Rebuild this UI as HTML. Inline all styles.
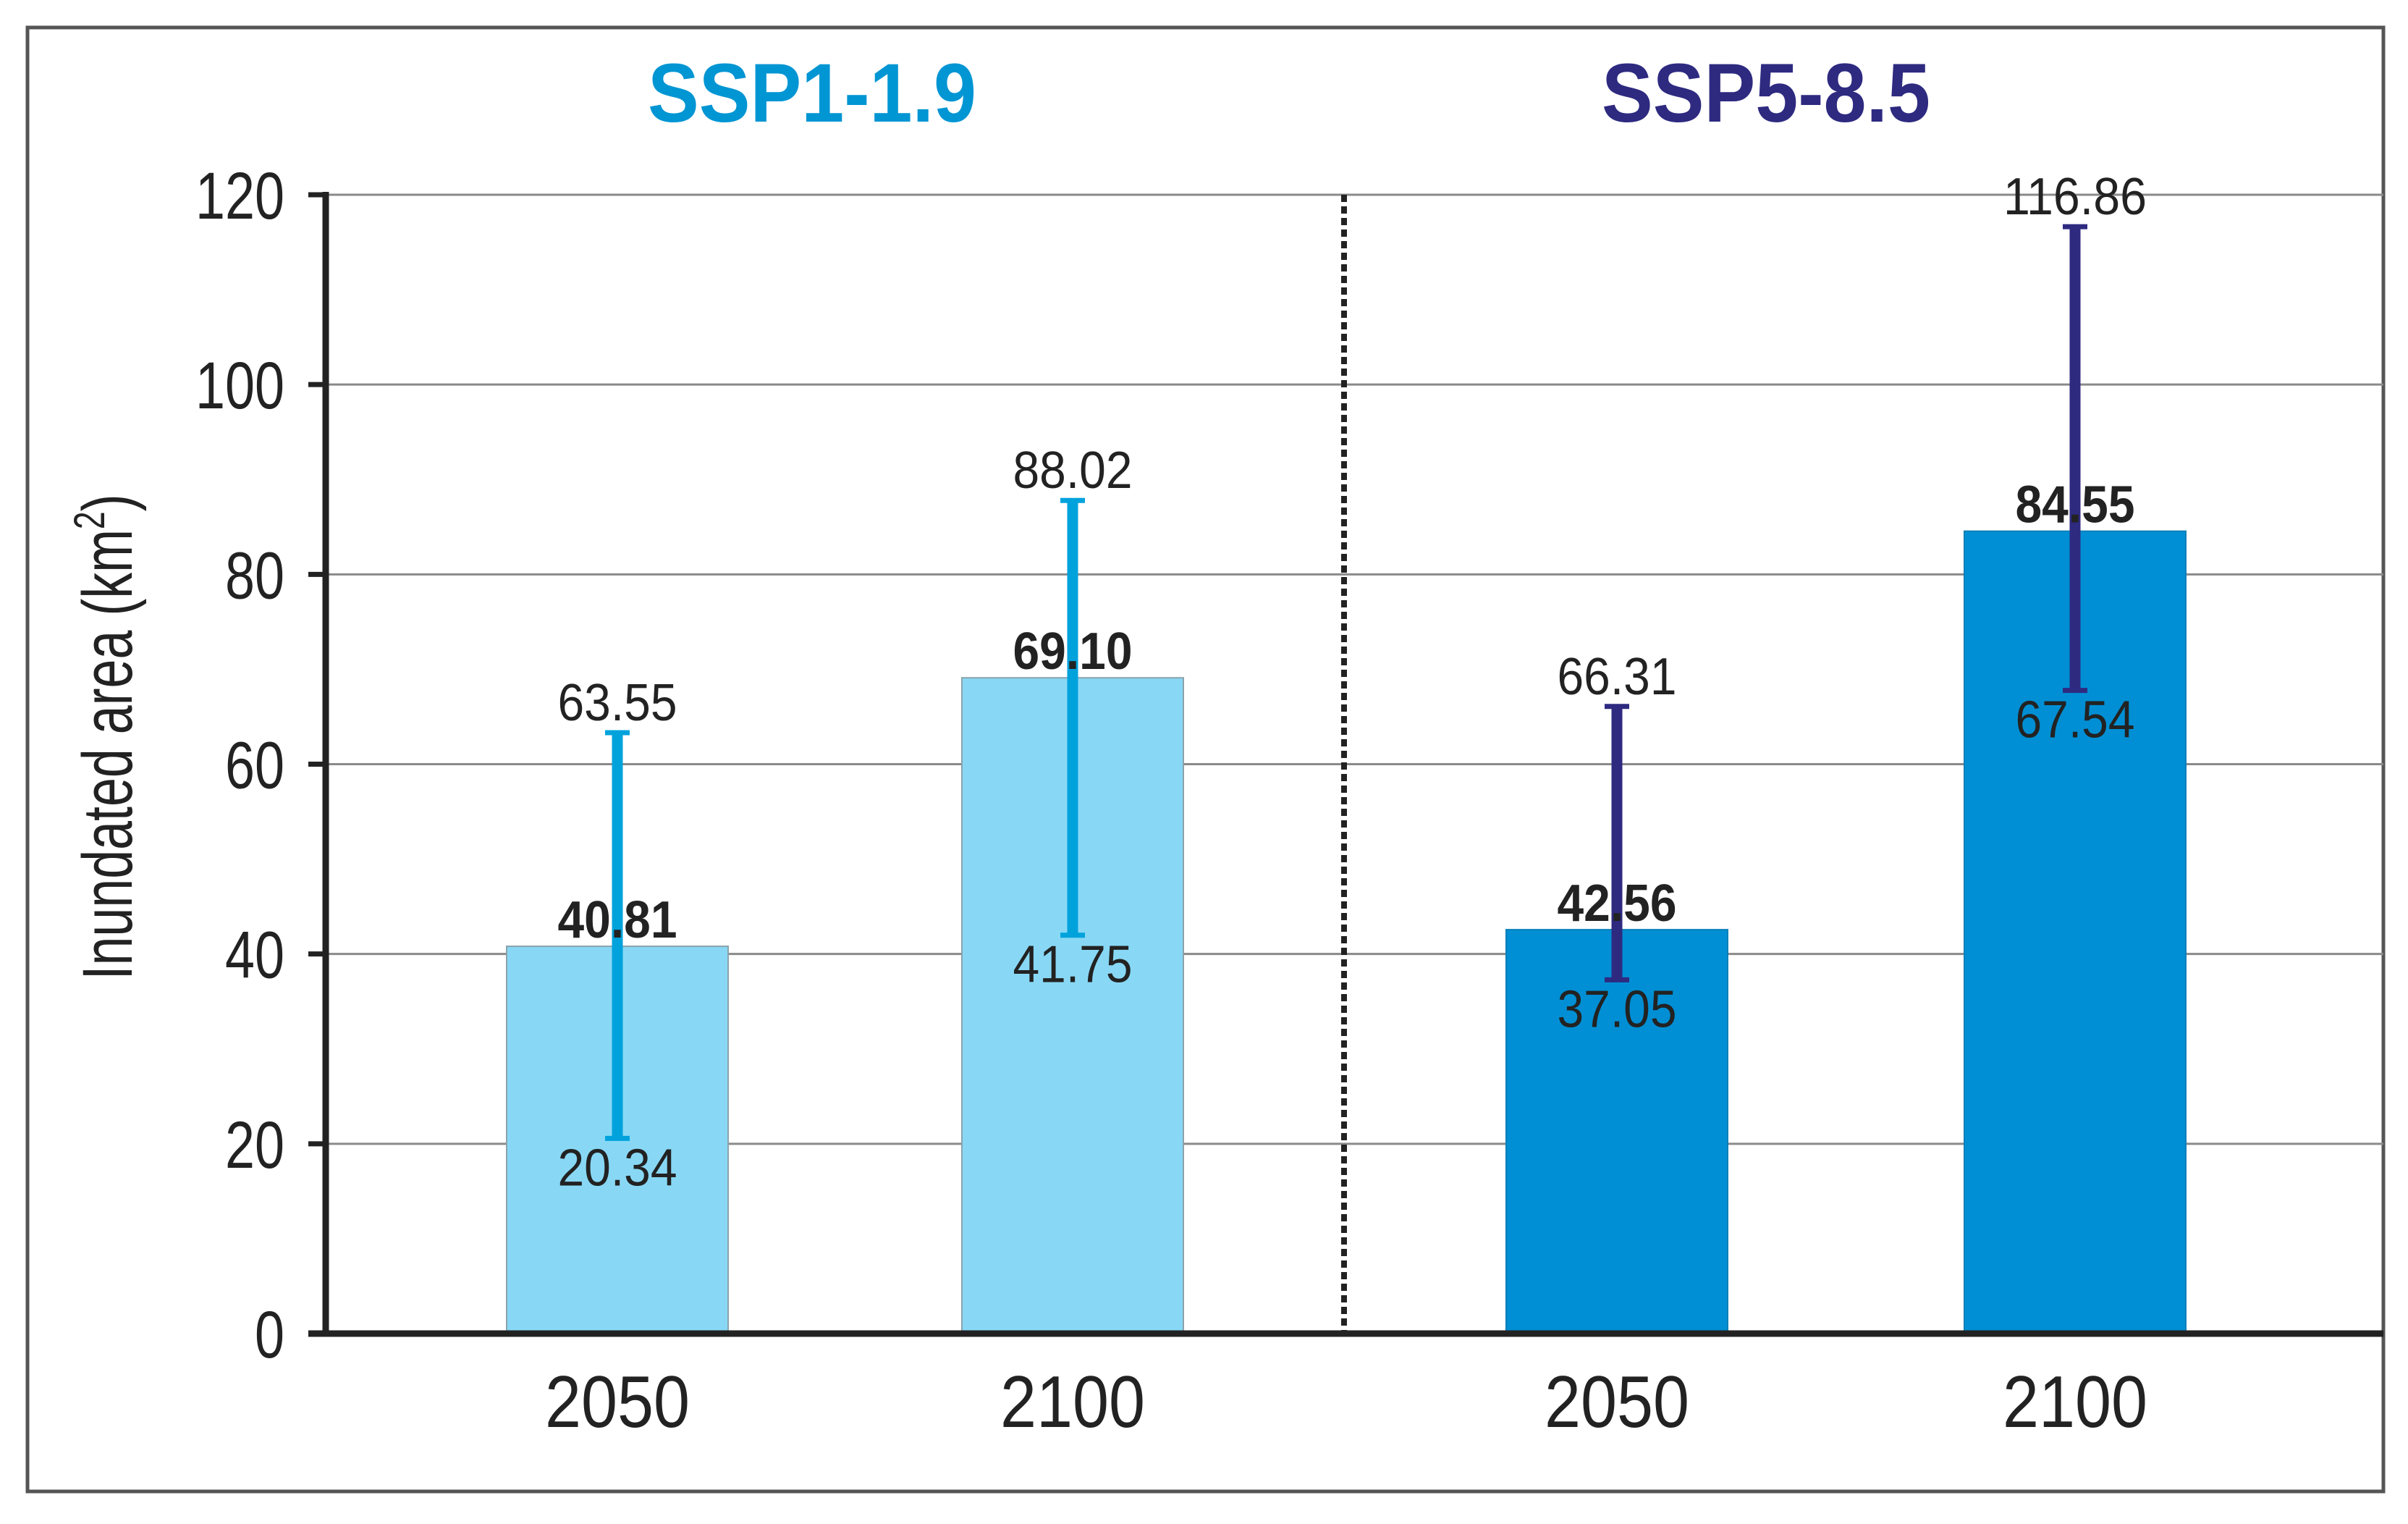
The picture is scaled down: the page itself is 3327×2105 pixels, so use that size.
<!DOCTYPE html>
<html><head><meta charset="utf-8"><style>
html,body{margin:0;padding:0;background:#fff;width:3327px;height:2105px;overflow:hidden}
svg{display:block}
text{font-family:"Liberation Sans",Arial,sans-serif}
</style></head><body>
<svg id="chart" width="3327" height="2105" viewBox="0 0 3327 2105" xmlns="http://www.w3.org/2000/svg">
<rect x="38" y="38" width="3255" height="2022" fill="#fff" stroke="#555" stroke-width="5"/>
<g id="grid"></g>
<g id="bars"></g>
<g id="axes"></g>
<g id="labels"></g>
<text x="1122" y="168" text-anchor="middle" font-size="115" font-weight="bold" fill="#0095d3" textLength="454" lengthAdjust="spacingAndGlyphs">SSP1-1.9</text>
<text x="2440" y="168" text-anchor="middle" font-size="115" font-weight="bold" fill="#2e2a80" textLength="454" lengthAdjust="spacingAndGlyphs">SSP5-8.5</text>
<g transform="translate(182,1018) rotate(-90) scale(0.74,1)">
<text x="0" y="0" text-anchor="middle" font-size="97" fill="#222">Inundated area (km<tspan font-size="60" dy="-38">2</tspan><tspan dy="38">)</tspan></text>
</g>
</svg>
<script>
const categories = ["2050", "2100", "2050", "2100"];
const meanValues = [40.81, 69.10, 42.56, 84.55];
const upperValues = [63.55, 88.02, 66.31, 116.86];
const lowerValues = [20.34, 41.75, 37.05, 67.54];
const scenarioIndex = [0, 0, 1, 1];
const yTicks = [0, 20, 40, 60, 80, 100, 120];

const NS = "http://www.w3.org/2000/svg";
const X0 = 450, XR = 3293, Y0 = 1842, Y120 = 269;
const yScale = v => Y0 - (v / 120) * (Y0 - Y120);
const barCenters = [853, 1482, 2234, 2867];
const xScale = i => barCenters[i];
const BAR_W = 306;
const barFill = ["#88d8f5", "#008fd4"];
const barStroke = ["#8aa3ad", "#0a7fb8"];
const errColor = ["#00a2dc", "#2e2a80"];

function mk(tag, attrs, parent) {
  const el = document.createElementNS(NS, tag);
  for (const k in attrs) el.setAttribute(k, attrs[k]);
  parent.appendChild(el);
  return el;
}
const grid = document.getElementById("grid");
const bars = document.getElementById("bars");
const axes = document.getElementById("axes");
const labels = document.getElementById("labels");

yTicks.forEach(t => {
  const y = yScale(t);
  if (t > 0) {
    const gl = mk("line", {x1: X0, x2: XR, y1: y, y2: y, stroke: "#8a8a8a", "stroke-width": 3}, grid);
    
    
  }
  const tk = mk("line", {x1: X0 - 24, x2: X0, y1: y, y2: y, stroke: "#222", "stroke-width": 7}, axes);
  
  
  const s = String(t);
  const lbl = mk("text", {x: 393, y: y + 33, "text-anchor": "end", "font-size": 92, fill: "#222", textLength: 41 * s.length, lengthAdjust: "spacingAndGlyphs"}, axes);
  lbl.textContent = s;
  
  
});

const div = mk("line", {x1: 1857, x2: 1857, y1: yScale(120), y2: Y0, stroke: "#222", "stroke-width": 8, "stroke-dasharray": "10 6"}, axes);



categories.forEach((c, i) => {
  const s = scenarioIndex[i];
  const cx = xScale(i);
  const yTop = yScale(meanValues[i]);
  const b = mk("rect", {x: cx - BAR_W / 2, y: yTop, width: BAR_W, height: Y0 - yTop, fill: barFill[s], stroke: barStroke[s], "stroke-width": 2}, bars);
  
  

  const yU = yScale(upperValues[i]), yL = yScale(lowerValues[i]);
  const eg = mk("g", {}, bars);
  
  
  mk("line", {x1: cx, x2: cx, y1: yU, y2: yL, stroke: errColor[s], "stroke-width": 15}, eg);
  mk("line", {x1: cx - 17, x2: cx + 17, y1: yU + 3, y2: yU + 3, stroke: errColor[s], "stroke-width": 7}, eg);
  mk("line", {x1: cx - 17, x2: cx + 17, y1: yL - 3, y2: yL - 3, stroke: errColor[s], "stroke-width": 7}, eg);

  const fmt = v => v.toFixed(2);
  const wOf = str => 33 * str.length;
  const us = fmt(upperValues[i]);
  const up = mk("text", {x: cx, y: yU - 14, "text-anchor": "middle", "font-size": 72, fill: "#222", textLength: wOf(us), lengthAdjust: "spacingAndGlyphs"}, labels);
  up.textContent = us;
  
  
  const ms = fmt(meanValues[i]);
  const mn = mk("text", {x: cx, y: yTop - 12, "text-anchor": "middle", "font-size": 72, "font-weight": "bold", fill: "#222", textLength: wOf(ms), lengthAdjust: "spacingAndGlyphs"}, labels);
  mn.textContent = ms;
  
  
  const ls = fmt(lowerValues[i]);
  const lo = mk("text", {x: cx, y: yL + 62, "text-anchor": "middle", "font-size": 72, fill: "#222", textLength: wOf(ls), lengthAdjust: "spacingAndGlyphs"}, labels);
  lo.textContent = ls;
  
  

  const xl = mk("text", {x: cx, y: 1971, "text-anchor": "middle", "font-size": 101, fill: "#222", textLength: 200, lengthAdjust: "spacingAndGlyphs"}, labels);
  xl.textContent = c;
  
  
});

const ya = mk("line", {x1: X0, x2: X0, y1: yScale(120) - 4, y2: Y0 + 4, stroke: "#222", "stroke-width": 9}, axes);


const xa = mk("line", {x1: X0 - 24, x2: XR, y1: Y0, y2: Y0, stroke: "#222", "stroke-width": 9}, axes);


</script>
</body></html>
